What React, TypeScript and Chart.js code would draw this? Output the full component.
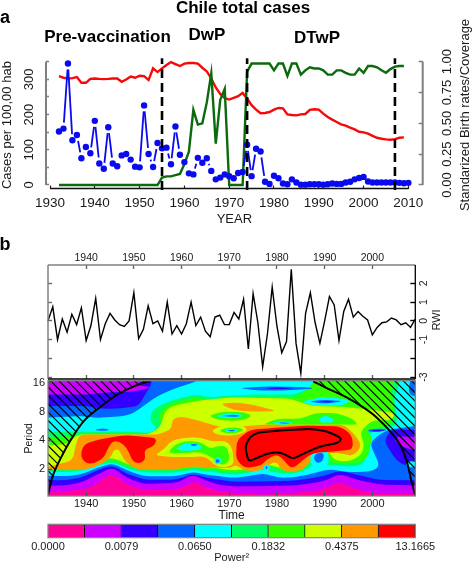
import React, { useEffect, useRef } from "react";
import { Chart, registerables } from "chart.js";

Chart.register(...registerables);

const FONT = "'Liberation Sans', Arial, sans-serif";
const INK = "#1a1a1a";

// ---------- panel a ----------
const CASE_YEARS = [1932,1933,1934,1935,1936,1937,1938,1939,1940,1941,1942,1943,1944,1945,1946,1947,1948,1949,1950,1951,1952,1953,1954,1955,1956,1957,1958,1959,1960,1961,1962,1963,1964,1965,1966,1967,1968,1969,1970,1971,1972,1973,1974,1975,1976,1977,1978,1979,1980,1981,1982,1983,1984,1985,1986,1987,1988,1989,1990,1991,1992,1993,1994,1995,1996,1997,1998,1999,2000,2001,2002,2003,2004,2005,2006,2007,2008,2009,2010];
const CASES = [152,160,345,127,142,76,108,90,182,61,46,164,61,53,84,88,72,52,50,226,88,51,119,104,106,59,166,86,65,33,30,77,63,76,40,16,21,30,25,19,34,37,114,25,103,95,9,3,26,19,4,2,16,7,1,1,2,2,2,1,2,4,3,3,7,9,16,20,23,10,7,7,7,7,7,7,6,5,6];
const BIRTH_RATE = [.883,.870,.864,.867,.875,.829,.829,.861,.864,.861,.859,.861,.864,.864,.837,.856,.880,.870,.886,.883,.851,.946,.916,.946,.973,.997,.981,.965,.984,.989,.989,.984,.951,.921,.864,.791,.739,.704,.693,.707,.720,.747,.701,.647,.611,.582,.584,.592,.611,.625,.622,.573,.568,.565,.573,.576,.609,.614,.611,.579,.552,.530,.511,.492,.481,.465,.451,.432,.427,.416,.399,.383,.375,.370,.367,.372,.383,.386];
const COVERAGE = [0,0,0,0,0,0,0,0,0,0,0,0,0,0,0,0,0,0,0,0,0,0,0,.06,.07,.07,.08,.09,.17,.27,.61,.49,.50,.67,.905,.335,.69,.78,0,0,0,0,.92,.985,.985,.985,.985,.985,.93,.985,.985,.885,.985,.985,.895,.93,.955,.945,.945,.93,.895,.895,.93,.93,.91,.895,.895,.945,.91,.965,.965,.955,.93,.91,.94,.96,.965,.965];
const PERIOD_BREAKS = [1955, 1974, 2007];
const BREAK_SPAN = [-14, 360];
const DECADES_A = [1930,1940,1950,1960,1970,1980,1990,2000,2010];
const CASE_TICKS = [0,50,100,150,200,250,300,350];
const CASE_LABELS = [0,100,200,300];
const SHARE_TICKS = [0,.25,.5,.75,1];

// ---------- panel b, series ----------
const RWI_YEARS = CASE_YEARS.slice(0, 78);
const RWI = [0,.75,-1,.1,-.6,.35,-.2,.7,-1.05,-.25,1.2,-1,-.15,.4,.05,-.2,-.3,0,1.5,-.95,-.45,.8,-.15,0,-.55,1,-.7,-.25,-.7,-.15,1,-.25,.2,-.55,-.85,.2,.3,-.2,-.2,.45,.1,1.15,-1.5,1.45,-.1,-2.45,-.7,1.8,-.3,-1.7,-1.1,2.75,-1.2,-2.8,.4,1.5,-.1,-1.2,0,1.3,.85,-1.05,.5,1.15,.2,.5,.25,.05,-.75,-.35,-.1,-.05,.15,.05,-.2,-.1,-.35,.1];
const DECADES_B = [1940,1950,1960,1970,1980,1990,2000];
const RWI_TICKS = [-3,-2,-1,0,1,2];
const RWI_LABELS = [-3,-1,0,1,2];

// ---------- panel b, wavelet power: outlines in [year, log2(period)] ----------
const PERIOD_TICKS = [1,2,3,4];
const LEVEL_COLORS = ["#ff0099","#cc00ff","#3300ff","#0066ff","#00ffff","#00ff66","#33ff00","#ccff00","#ff9900","#ff0000"];
const POWER_LABELS = ["0.0000","0.0079","0.0650","0.1832","0.4375","13.1665"];

const L1 = [[1929,.15],[1935.4,.22],[1938.8,.28],[1941.6,.4],[1943.7,.68],[1945.5,.83],[1947,.63],[1949.3,.4],[1952.1,.28],[1959.1,.28],[1961.2,.43],[1962.6,.57],[1964,.46],[1966,.28],[1971,.17],[1977,.11],[1984,.17],[1989.7,.28],[1993,.57],[1996,.34],[1999.5,.17],[2012,.13],[2012,4.8],[1929,4.8]];
const L2 = [[1929,.4],[1935.4,.43],[1938.8,.52],[1942.3,.81],[1945.5,1.06],[1948.6,.69],[1952.1,.48],[1959.1,.52],[1962.3,.81],[1964.7,.63],[1967.5,.46],[1971,.4],[1977.1,.4],[1984.1,.43],[1989.7,.57],[1993.2,.83],[1996.7,.63],[2001.6,.46],[2012,.43],[2012,4.8],[1952.2,4.8],[1952.2,4.08],[1950,3.94],[1954,3.85],[1950,3.7],[1945,3.68],[1940,3.6],[1929,3.6]];
const L3 = [[1929,.63],[1935.4,.6],[1938.8,.69],[1942.3,.95],[1945.5,1.13],[1948.6,.83],[1952.1,.63],[1959.1,.63],[1962.3,.83],[1965.4,.69],[1971,.55],[1977.1,.57],[1984.1,.6],[1989.7,.75],[1993.2,.95],[1996.7,.8],[2001.6,.62],[2012,.6],[2012,4.8],[1954,4.8],[1953.8,3.98],[1952.2,3.55],[1951,3.2],[1946.5,3.1],[1943,3.1],[1940.2,3.2],[1929,3.2]];
const L4 = [[1929,.78],[1935.4,.75],[1938.8,.8],[1942.3,1.04],[1945.5,1.2],[1948.6,.95],[1952.1,.75],[1959.1,.75],[1962.3,.9],[1965.4,.8],[1971,.69],[1973.7,.75],[1977.1,.85],[1980.6,.69],[1984.1,.72],[1987.6,.85],[1991,1],[1994.6,.9],[1998.1,.9],[2000.5,.95],[2001.5,1.15],[2000.5,1.5],[1999.5,1.9],[2001,2.15],[2003,2.35],[2005,2.42],[2012,2.55],[2012,3.4],[2007.5,3.6],[2008.5,4.8],[1963.6,4.8],[1963.6,4.08],[1958.5,3.8],[1955,3.55],[1952,3.2],[1950,2.95],[1948,2.85],[1942,2.78],[1939.5,2.85],[1929,2.78]];
const L5 = [[1929,.9],[1935.4,.9],[1938.8,.92],[1942.3,1.13],[1945.5,1.25],[1948.6,1.02],[1952.1,.88],[1959.1,.88],[1962.3,.98],[1965.4,.92],[1971,.8],[1973.7,.85],[1977,1],[1980.6,.85],[1984.1,.85],[1986.5,1],[1987,1.12],[1991,1.15],[1994.6,1.1],[1997,1.1],[1998.5,1.25],[1998.3,1.45],[1996.8,1.75],[1997.5,1.95],[1998.5,2.1],[2000,2.3],[2004,2.45],[2005.2,2.6],[2005,3],[2004.5,3.5],[2005.5,3.8],[2006,4.8],[1988,4.8],[1987.8,4.08],[1987,3.85],[1984,3.6],[1977,3.6],[1971,3.58],[1966,3.5],[1963,3.6],[1958,3.4],[1955,3.2],[1953.5,2.95],[1953.5,2.62],[1955,2.4],[1953,2.25],[1950,2.3],[1929,2.3]];
const L6 = [[1929,.95],[1935.4,.98],[1938.8,1],[1942.3,1.22],[1945.5,1.35],[1948.6,1.1],[1952.1,.96],[1959.1,.96],[1962.3,1.05],[1965.4,1],[1971,.88],[1973.7,.95],[1975.5,1.1],[1977.1,1.15],[1979,1.1],[1980.6,.95],[1984.1,.95],[1986.5,1.1],[1987,1.6],[1989,1.7],[1990.8,1.55],[1991.2,1.2],[1994.6,1.2],[1998,1.25],[1999.3,1.5],[1999.5,1.85],[2000.2,2.1],[1998.5,2.3],[2001,2.45],[2003.5,2.5],[2004.5,2.75],[2004.5,3.2],[2004,3.6],[2005,4.8],[1988.6,4.8],[1988,4.08],[1986,3.7],[1984,3.5],[1977,3.5],[1971,3.45],[1966,3.38],[1963,3.5],[1958,3.3],[1956,3.1],[1955,2.75],[1957,2.4],[1953.5,2.15],[1950,2.2],[1929,2.1]];
const L7 = [[1929,.95],[1934,1.05],[1938.8,1.08],[1942.3,1.3],[1945.5,1.4],[1948.6,1.18],[1952.1,1.02],[1959,1.02],[1962.3,1.1],[1965.4,1.08],[1971,.95],[1973.5,1],[1975.5,1.15],[1977,1.2],[1980.6,1.05],[1984.1,1],[1986,1.15],[1987,1.55],[1990.5,1.7],[1992,1.3],[1995,1.25],[1997.8,1.5],[1998.3,1.9],[1997.5,2.2],[1998,2.4],[2000,2.7],[2004,2.7],[2004.8,2.95],[2003,3],[1998,3.1],[1993,3.18],[1987,3.2],[1983,3.45],[1971,3.5],[1964,3.4],[1958,3.2],[1956.5,3],[1955.5,2.45],[1953,2.2],[1938,2.2],[1936.5,1.9],[1929,1.75]];
const L8 = [[1929,.92],[1933,.98],[1940,.98],[1943,1.15],[1945.2,1.4],[1945.8,1.68],[1947,1.68],[1948,1.27],[1950.7,.98],[1959,1],[1962.6,1.1],[1966,1.05],[1970.5,1.04],[1971.2,1.15],[1973.7,.92],[1976.8,.95],[1978.2,1.15],[1980,1.27],[1980.7,.98],[1983.4,.87],[1986,1.04],[1987,1.3],[1988.7,1.56],[1993,1.56],[1996,1.45],[1997.8,1.8],[1996.4,2.2],[1994,2.55],[1977,2.55],[1973.7,2.5],[1970.2,2.43],[1967.5,2.5],[1962.6,2.73],[1959.8,2.84],[1958,2.73],[1958,2.4],[1955,2.2],[1938.5,2.2],[1937.6,1.7],[1937.2,1.3],[1934.7,1.2]];
const TOP_ORANGE = [[1968,3.28],[1972,3.32],[1976,3.2],[1980,3.02],[1975,3],[1971,3.05]];
const ISLAND_YELLOW = [[1954.2,1.48],[1956.3,1.68],[1957.7,1.97],[1960.5,2.1],[1964,2.1],[1966.5,1.95],[1969,2],[1970.5,1.8],[1971,1.3],[1970.5,1.1],[1968,1.05],[1966.5,1.2],[1965,1.45],[1962,1.42],[1958,1.42]];
const ISLAND_GREEN = [[1957,1.55],[1958.5,1.85],[1961,1.98],[1964,1.95],[1966,1.7],[1967.5,1.8],[1969.5,1.8],[1970.2,1.3],[1968.5,1.1],[1966.5,1.4],[1964,1.6],[1960,1.55]];
const ISLAND_CYAN = [[1958.5,1.68],[1960.5,1.9],[1963.5,1.9],[1964.5,1.7],[1962,1.62]];
const ISLAND_BLUE = [[1961.7,1.84],[1962.5,1.88],[1963.6,1.84],[1962.5,1.8]];
const ISLAND2_CYAN = [[1966.7,1.25],[1967.5,1.45],[1968.7,1.3],[1967.5,1.12]];
const ISLAND2_BLUE = [[1967,1.28],[1967.5,1.36],[1968.2,1.28],[1967.5,1.2]];
const LENS_A = [[[1965.5,2.85],[1968.5,3],[1973,2.98],[1975,2.85],[1972.5,2.68],[1968,2.7]],[[1967,2.85],[1970,2.95],[1973,2.9],[1972,2.78],[1969,2.78]],[[1968,2.85],[1971,2.9],[1972.5,2.85],[1971,2.82]]];
const LENS_B = [[[1966,2.33],[1969,2.55],[1973,2.52],[1974,2.33],[1971.5,2.17],[1968,2.17]],[[1967.5,2.33],[1970,2.47],[1972.5,2.42],[1973,2.33],[1970.5,2.22]],[[1968.5,2.33],[1970.5,2.42],[1972.3,2.35],[1970.5,2.27]],[[1969.5,2.34],[1970.5,2.37],[1971.5,2.34],[1970.5,2.31]]];
const MID_GREEN = [[1977,2.55],[1997,2.55],[1996,2.75],[1992.5,2.95],[1988,2.95],[1985,2.75],[1980,2.75]];
const LENS_C = [[[1978.5,2.6],[1981,2.68],[1984,2.6],[1981,2.54]],[[1980,2.61],[1981.5,2.63],[1983,2.6],[1981.5,2.58]]];
const PATCH_D = [[1988.7,2.62],[1992,2.62],[1991.5,2.84],[1989,2.84]];
const LENS_E = [[[1972,3.82],[1978,3.88],[1986,3.86],[1988,3.8],[1982,3.74],[1976,3.74]],[[1977,3.82],[1981,3.85],[1984,3.82],[1980,3.78]]];
const LENS_F = [[[1984.8,3.35],[1990,3.53],[1995.5,3.4],[1994,3.22],[1988,3.2]],[[1986.5,3.35],[1990,3.42],[1994,3.36],[1990,3.28]],[[1988.5,3.35],[1990.5,3.38],[1992.5,3.35],[1990.5,3.32]]];
const LENS_G = [[[1998.5,2.33],[2001,2.42],[2003.5,2.38],[2001,2.27]],[[1999.5,2.34],[2001,2.37],[2003,2.34],[2001,2.31]]];
const RIGHT_VIOLET = [[2002.5,2],[2004,2.38],[2012,2.35],[2012,1.1],[2007,1.1],[2005,1.3],[2003.5,1.7]];
const RIGHT_PURPLE = [[2004.3,2.05],[2005.5,2.14],[2012,2.1],[2012,1.68],[2007,1.7]];
const RIGHT_CYAN = [[2006.8,1.17],[2008,1.3],[2010,1.17],[2008,1.02]];
const LEFT_BLUE = [[1941.5,2.37],[1943.4,2.43],[1945.2,2.37],[1943.4,2.32]];
const HALO_CYAN = [[1986.8,1.35],[1987.6,1.7],[1990.8,1.65],[1990.8,1.1],[1987.5,1.05]];
const HALO_BLUE = [[1987.6,1.4],[1988.3,1.56],[1990,1.55],[1989.5,1.25],[1988.3,1.2]];
const DOT_CYAN = [[1977,1.05],[1977.8,1.2],[1978.7,1.05],[1977.8,.9]];
const DOT_BLUE = [[1977.5,1.05],[1977.8,1.12],[1978.1,1.05],[1977.8,.97]];
const RED_LEFT = [[1938.8,1.44],[1939.4,1.85],[1941.6,1.99],[1945.1,2.11],[1948.3,2.18],[1954.9,2.08],[1954.2,1.79],[1952.1,1.68],[1952.5,1.33],[1951.1,1.18],[1949.7,1.27],[1948.6,1.74],[1946.9,1.97],[1945.5,1.97],[1944.4,1.68],[1943.7,1.39],[1941.6,1.18],[1939.9,1.2]];
const RED_RIGHT = [[1971.6,2.02],[1974.4,2.37],[1979.2,2.43],[1985.5,2.51],[1993.2,2.49],[1995.7,2.2],[1996,1.68],[1991.1,1.6],[1987.6,1.56],[1985.9,1.39],[1984.1,1.1],[1982.7,1.04],[1981.7,1.27],[1980,1.53],[1977.8,1.33],[1976.8,1.13],[1973.3,1.02],[1971.4,1.33]];
const SIGNIFICANCE = [[1974,1.27],[1973.3,1.79],[1974.4,2.14],[1976.1,2.28],[1980.6,2.34],[1986.9,2.4],[1990.4,2.32],[1993.6,2.08],[1992.9,1.91],[1989,1.79],[1985.9,1.56],[1983.4,1.36],[1982.4,1.44],[1980.6,1.6],[1977.8,1.53],[1975,1.33]];
const COI_LEFT = [[1932,.11],[1933.1,.805],[1934.7,1.39],[1936.8,2.02],[1939.5,2.67],[1942.7,3.13],[1946.5,3.59],[1950,3.88],[1953.5,4.08]];
const COI_RIGHT = [[1987.6,4.06],[1991.1,3.77],[1994.6,3.5],[1998.1,3.15],[2000.9,2.8],[2003.7,2.32],[2005.8,1.85],[2007.2,1.27],[2008.2,.57],[2009,.09]];
const HATCH_LEFT_CORNER = [[1931,4.3],[1931,.11]];
const HATCH_RIGHT_CORNER = [[2010,.09],[2010,4.3]];

type Pt = number[];
const c = LEVEL_COLORS;
const POWER_LAYERS: [string, Pt[]][] = [
  [c[1], L1],[c[2], L2],[c[3], L3],[c[4], L4],[c[5], L5],[c[6], L6],[c[7], L7],
  [c[8], TOP_ORANGE],[c[8], L8],
  [c[6], MID_GREEN],[c[4], LENS_C[0]],[c[3], LENS_C[1]],[c[4], PATCH_D],
  [c[7], ISLAND_YELLOW],[c[6], ISLAND_GREEN],[c[4], ISLAND_CYAN],[c[3], ISLAND_BLUE],[c[4], ISLAND2_CYAN],[c[3], ISLAND2_BLUE],
  [c[6], LENS_A[0]],[c[4], LENS_A[1]],[c[3], LENS_A[2]],
  [c[7], LENS_B[0]],[c[6], LENS_B[1]],[c[4], LENS_B[2]],[c[3], LENS_B[3]],
  [c[3], LENS_E[0]],[c[2], LENS_E[1]],
  [c[4], LENS_F[0]],[c[3], LENS_F[1]],[c[2], LENS_F[2]],
  [c[3], LENS_G[0]],[c[2], LENS_G[1]],
  [c[2], RIGHT_VIOLET],[c[1], RIGHT_PURPLE],[c[4], RIGHT_CYAN],
  [c[3], LEFT_BLUE],[c[4], HALO_CYAN],[c[3], HALO_BLUE],[c[4], DOT_CYAN],[c[3], DOT_BLUE],
  [c[9], RED_LEFT],[c[9], RED_RIGHT],
];

const pts = (a: Pt[]) => a.map(([x, y]) => ({ x, y }));
const fixed = (n: number) => (s: any) => { if (s.isHorizontal()) s.height = n; else s.width = n; };
const setTicks = (vals: number[]) => (s: any) => { s.ticks = vals.map((value) => ({ value })); };
const font = (size: number, weight = "normal") => ({ family: FONT, size, weight });

function roundedPath(ctx: CanvasRenderingContext2D, p: { x: number; y: number }[], r = 7) {
  ctx.beginPath();
  const n = p.length;
  for (let i = 0; i < n; i++) {
    const cur = p[i], prev = p[(i + n - 1) % n], next = p[(i + 1) % n];
    const dp = Math.hypot(prev.x - cur.x, prev.y - cur.y) || 1;
    const dn = Math.hypot(next.x - cur.x, next.y - cur.y) || 1;
    const tp = Math.min(r / dp, 0.5), tn = Math.min(r / dn, 0.5);
    const ax = cur.x + (prev.x - cur.x) * tp, ay = cur.y + (prev.y - cur.y) * tp;
    const bx = cur.x + (next.x - cur.x) * tn, by = cur.y + (next.y - cur.y) * tn;
    if (i === 0) ctx.moveTo(ax, ay); else ctx.lineTo(ax, ay);
    ctx.quadraticCurveTo(cur.x, cur.y, bx, by);
  }
  ctx.closePath();
}

const stroke = (ctx: any, color: string, w: number, x1: number, y1: number, x2: number, y2: number) => {
  ctx.save(); ctx.strokeStyle = color; ctx.lineWidth = w; ctx.beginPath(); ctx.moveTo(x1, y1); ctx.lineTo(x2, y2); ctx.stroke(); ctx.restore();
};

const gappedLine = {
  id: "gappedLine",
  beforeDatasetDraw(chart: any, args: any) {
    const ds = chart.data.datasets[args.index];
    if (!ds.gapRadius) return;
    const ctx = chart.ctx, el = args.meta.data;
    ctx.save();
    ctx.strokeStyle = ds.backgroundColor; ctx.lineWidth = ds.gapLineWidth;
    for (let i = 0; i + 1 < el.length; i++) {
      const dx = el[i + 1].x - el[i].x, dy = el[i + 1].y - el[i].y, d = Math.hypot(dx, dy);
      if (d <= 2 * ds.gapRadius) continue;
      const t = ds.gapRadius / d;
      ctx.beginPath();
      ctx.moveTo(el[i].x + dx * t, el[i].y + dy * t);
      ctx.lineTo(el[i + 1].x - dx * t, el[i + 1].y - dy * t);
      ctx.stroke();
    }
    ctx.restore();
  },
};

const axesA = {
  id: "axesA",
  afterDatasetsDraw(chart: any) {
    const { x, y, y1 } = chart.scales, a = chart.chartArea, ctx = chart.ctx;
    stroke(ctx, "#7f7f7f", 2, a.left, y.getPixelForValue(0), a.left, y.getPixelForValue(350));
    stroke(ctx, "#7f7f7f", 2, a.right, y1.getPixelForValue(0), a.right, y1.getPixelForValue(1));
    stroke(ctx, "#111", 1.3, x.getPixelForValue(1930), a.bottom, x.getPixelForValue(2010), a.bottom);
  },
};

const frameRwi = {
  id: "frameRwi",
  afterDatasetsDraw(chart: any) {
    const a = chart.chartArea, ctx = chart.ctx;
    stroke(ctx, "#808080", 1.5, a.left, a.top, a.right, a.top);
    stroke(ctx, "#808080", 1.5, a.left, a.top, a.left, a.bottom);
    stroke(ctx, "#000", 1.3, a.right, a.top, a.right, a.bottom);
    stroke(ctx, "#000", 1.3, a.left, a.bottom, a.right, a.bottom);
  },
};

const powerLayers = {
  id: "powerLayers",
  beforeDatasetsDraw(chart: any) {
    const a = chart.chartArea, ctx = chart.ctx;
    ctx.save();
    ctx.beginPath(); ctx.rect(a.left, a.top, a.width, a.height); ctx.clip();
    ctx.fillStyle = LEVEL_COLORS[0];
    ctx.fillRect(a.left, a.top, a.width, a.height);
    chart.data.datasets.forEach((ds: any, i: number) => {
      if (!ds.fillColor) return;
      const el = chart.getDatasetMeta(i).data;
      roundedPath(ctx, el, 6);
      ctx.fillStyle = ds.fillColor; ctx.fill();
    });
    chart.data.datasets.forEach((ds: any, i: number) => {
      if (!ds.hatched) return;
      const el = chart.getDatasetMeta(i).data;
      ctx.save();
      ctx.beginPath();
      el.forEach((e: any, k: number) => (k ? ctx.lineTo(e.x, e.y) : ctx.moveTo(e.x, e.y)));
      ctx.closePath(); ctx.clip();
      ctx.strokeStyle = "#000"; ctx.lineWidth = 1.2;
      for (let off = -a.height; off < a.width; off += 8.4) {
        ctx.beginPath(); ctx.moveTo(a.left + off, a.top); ctx.lineTo(a.left + off + a.height, a.bottom); ctx.stroke();
      }
      ctx.restore();
    });
    chart.data.datasets.forEach((ds: any, i: number) => {
      if (!ds.contourColor) return;
      roundedPath(ctx, chart.getDatasetMeta(i).data, 5);
      ctx.strokeStyle = ds.contourColor; ctx.lineWidth = 2; ctx.stroke();
    });
    ctx.restore();
  },
  afterDatasetsDraw(chart: any) {
    const a = chart.chartArea, ctx = chart.ctx;
    ctx.save(); ctx.strokeStyle = "#808080"; ctx.lineWidth = 1.3; ctx.strokeRect(a.left, a.top, a.width, a.height); ctx.restore();
  },
};

const barFrame = {
  id: "barFrame",
  afterDatasetsDraw(chart: any) {
    const a = chart.chartArea, ctx = chart.ctx;
    ctx.save(); ctx.strokeStyle = "#808080"; ctx.lineWidth = 1.2; ctx.strokeRect(a.left, a.top, a.width, a.height); ctx.restore();
  },
};

function configA(): any {
  return {
    type: "line",
    plugins: [gappedLine, axesA],
    data: {
      datasets: [
        ...PERIOD_BREAKS.map((yr) => ({
          data: BREAK_SPAN.map((v) => ({ x: yr, y: v })), borderColor: "#000", borderWidth: 2.6, borderDash: [9, 5], pointRadius: 0, clip: false, yAxisID: "y",
        })),
        { data: CASE_YEARS.map((x, i) => ({ x, y: CASES[i] })), showLine: false, backgroundColor: "#0a0af0", pointBackgroundColor: "#0a0af0", pointBorderWidth: 0, pointRadius: 3.2, clip: false, gapRadius: 6, gapLineWidth: 1.8, yAxisID: "y" },
        { data: RWI_YEARS.map((x, i) => ({ x, y: COVERAGE[i] })), borderColor: "#0b6a0b", borderWidth: 2.4, pointRadius: 0, tension: 0, clip: false, yAxisID: "y1" },
        { data: RWI_YEARS.map((x, i) => ({ x, y: BIRTH_RATE[i] })), borderColor: "#f80808", borderWidth: 2.4, pointRadius: 0, tension: 0, clip: false, yAxisID: "y1" },
      ],
    },
    options: {
      animation: false, responsive: false,
      layout: { padding: { top: 61.7, bottom: 0, left: 0, right: 0 } },
      plugins: { legend: { display: false }, title: { display: false }, tooltip: { enabled: false } },
      scales: {
        x: {
          type: "linear", min: 1929.1, max: 2013.2, afterBuildTicks: setTicks(DECADES_A), afterFit: fixed(43.5),
          border: { display: false },
          grid: { drawOnChartArea: false, tickLength: -3, tickColor: "#222", tickWidth: 1.2 },
          ticks: { autoSkip: false, maxRotation: 0, font: font(13.5), color: INK, padding: 10, callback: (v: number) => String(v) },
          title: { display: true, text: "YEAR", font: font(13), color: INK, padding: { top: 0, bottom: 5 } },
        },
        y: {
          position: "left", min: -10, max: 350, afterBuildTicks: setTicks(CASE_TICKS), afterFit: fixed(46),
          border: { display: false },
          grid: { drawOnChartArea: false, tickLength: -3, tickColor: "#7f7f7f", tickWidth: 1.5 },
          ticks: { autoSkip: false, minRotation: 90, maxRotation: 90, crossAlign: "center", font: font(13), color: INK, padding: 9, callback: (v: number) => (CASE_LABELS.includes(v) ? String(v) : "") },
          title: { display: true, text: "Cases per 100,00 hab", font: font(13), color: INK, padding: { top: 0, bottom: 0 } },
        },
        y1: {
          position: "right", min: -0.0284, max: 1, afterBuildTicks: setTicks(SHARE_TICKS), afterFit: fixed(49.3),
          border: { display: false },
          grid: { drawOnChartArea: false, tickLength: -4, tickColor: "#7f7f7f", tickWidth: 1.5 },
          ticks: { autoSkip: false, minRotation: 90, maxRotation: 90, crossAlign: "center", font: font(13), color: INK, padding: 16, callback: (v: number) => v.toFixed(2) },
        },
      },
    },
  };
}

function configB(): any {
  const bare = { drawOnChartArea: false, tickLength: -4, tickColor: "#666", tickWidth: 1.4 };
  return {
    type: "line",
    plugins: [frameRwi],
    data: { datasets: [{ data: RWI_YEARS.map((x, i) => ({ x, y: RWI[i] })), borderColor: "#000", borderWidth: 1.4, pointRadius: 0, tension: 0, clip: false, xAxisID: "x", yAxisID: "y" }] },
    options: {
      animation: false, responsive: false,
      layout: { padding: 0 },
      plugins: { legend: { display: false }, title: { display: false }, tooltip: { enabled: false } },
      scales: {
        x: {
          type: "linear", position: "top", min: 1932, max: 2009, afterBuildTicks: setTicks(DECADES_B), afterFit: fixed(20),
          border: { display: false }, grid: bare,
          ticks: { autoSkip: false, maxRotation: 0, font: font(10.5), color: INK, padding: 5, callback: (v: number) => String(v) },
        },
        x2: {
          type: "linear", axis: "x", position: "bottom", min: 1932, max: 2009, afterBuildTicks: setTicks(DECADES_B), afterFit: fixed(17),
          border: { display: false }, grid: bare, ticks: { display: false, autoSkip: false },
        },
        y: {
          position: "right", min: -3.1, max: 2.98, afterBuildTicks: setTicks(RWI_TICKS), afterFit: fixed(56.7),
          border: { display: false }, grid: { ...bare, tickColor: "#000", tickLength: -5 },
          ticks: { autoSkip: false, minRotation: 90, maxRotation: 90, crossAlign: "center", font: font(10.5), color: INK, padding: 9, callback: (v: number) => (RWI_LABELS.includes(v) ? String(v) : "") },
        },
        y2: {
          type: "linear", axis: "y", position: "left", min: -3.1, max: 2.98, afterBuildTicks: setTicks(RWI_TICKS), afterFit: fixed(48),
          border: { display: false }, grid: bare, ticks: { display: false, autoSkip: false },
        },
      },
    },
  };
}

function configC(): any {
  const overlayDs = POWER_LAYERS.map(([fillColor, a]) => ({ data: pts(a), fillColor, showLine: false, pointRadius: 0 }));
  return {
    type: "line",
    plugins: [powerLayers],
    data: {
      datasets: [
        { data: pts(COI_LEFT), borderColor: "#000", borderWidth: 2, pointRadius: 0, tension: 0.35, clip: true },
        { data: pts(COI_RIGHT), borderColor: "#000", borderWidth: 2, pointRadius: 0, tension: 0.35, clip: true },
        ...overlayDs,
        { data: pts([...COI_LEFT, ...HATCH_LEFT_CORNER]), hatched: true, showLine: false, pointRadius: 0 },
        { data: pts([...COI_RIGHT, ...HATCH_RIGHT_CORNER]), hatched: true, showLine: false, pointRadius: 0 },
        { data: pts(SIGNIFICANCE), contourColor: "#000", showLine: false, pointRadius: 0 },
      ],
    },
    options: {
      animation: false, responsive: false,
      layout: { padding: { top: 20.7, right: 56.7, left: 0, bottom: 0 } },
      plugins: { legend: { display: false }, title: { display: false }, tooltip: { enabled: false } },
      scales: {
        x: {
          type: "linear", min: 1932, max: 2009, afterBuildTicks: setTicks(DECADES_B), afterFit: fixed(27),
          border: { display: false }, grid: { drawOnChartArea: false, tickLength: -4, tickColor: "#555", tickWidth: 1.4, z: 1 },
          ticks: { autoSkip: false, maxRotation: 0, font: font(11), color: INK, padding: 5, callback: (v: number) => String(v) },
          title: { display: true, text: "Time", font: font(12), color: INK, padding: { top: 0, bottom: 0 } },
        },
        y: {
          min: 0.06, max: 4.08, afterBuildTicks: setTicks(PERIOD_TICKS), afterFit: fixed(48),
          border: { display: false }, grid: { drawOnChartArea: false, tickLength: -4, tickColor: "#555", tickWidth: 1.4, z: 1 },
          ticks: { autoSkip: false, font: font(11), color: INK, padding: 7, callback: (v: number) => String(Math.pow(2, v)) },
          title: { display: true, text: "Period", font: font(10.5), color: INK, padding: { top: 22.7, bottom: 0 } },
        },
      },
    },
  };
}

function configD(): any {
  return {
    type: "bar",
    plugins: [barFrame],
    data: {
      labels: ["Power"],
      datasets: LEVEL_COLORS.map((color) => ({ data: [1], backgroundColor: color, borderColor: "#000", borderWidth: { right: 1 }, barPercentage: 1, categoryPercentage: 1 })),
    },
    options: {
      indexAxis: "y", animation: false, responsive: false,
      layout: { padding: { top: 4.3, left: 48, right: 56.7, bottom: 0 } },
      plugins: { legend: { display: false }, title: { display: false }, tooltip: { enabled: false } },
      scales: {
        x: {
          type: "linear", stacked: true, min: 0, max: 10, afterBuildTicks: setTicks([0, 2, 4, 6, 8, 10]), afterFit: fixed(27.3),
          border: { display: false }, grid: { display: false, drawTicks: false },
          ticks: { autoSkip: false, maxRotation: 0, font: font(11), color: INK, padding: 2.5, callback: (v: number) => POWER_LABELS[v / 2] },
          title: { display: true, text: "Power\u00b2", font: font(11), color: INK, padding: { top: 0, bottom: 0 } },
        },
        y: { stacked: true, display: false },
      },
    },
  };
}

const Text = ({ x, y, size, bold, rotate, children }: any) => (
  <span style={{
    position: "absolute", left: x, top: y, whiteSpace: "nowrap", lineHeight: 1, color: bold ? "#000" : INK,
    fontFamily: FONT, fontSize: size, fontWeight: bold ? "bold" : "normal",
    transform: `translate(-50%,-50%)${rotate ? " rotate(-90deg)" : ""}`,
  }}>{children}</span>
);

function Panel({ top, height, make }: { top: number; height: number; make: () => any }) {
  const ref = useRef<HTMLCanvasElement>(null);
  useEffect(() => {
    const chart = new Chart(ref.current!, make());
    return () => chart.destroy();
  }, [make]);
  return <canvas ref={ref} width={472} height={height} style={{ position: "absolute", left: 0, top, width: 472, height, display: "block" }} />;
}

export default function App() {
  return (
    <div style={{ position: "absolute", left: 0, top: 0, width: 472, height: 562, overflow: "hidden", background: "#fff" }}>
      <Panel top={0} height={232} make={configA} />
      <Panel top={245} height={151} make={configB} />
      <Panel top={360} height={163} make={configC} />
      <Panel top={520} height={45} make={configD} />
      <Text x={243} y={7} size={17} bold>Chile total cases</Text>
      <Text x={5} y={17} size={18} bold>a</Text>
      <Text x={107.5} y={35.7} size={17} bold>Pre-vaccination</Text>
      <Text x={207} y={34.3} size={17} bold>DwP</Text>
      <Text x={317} y={36.7} size={17} bold>DTwP</Text>
      <Text x={5} y={244} size={18} bold>b</Text>
      <Text x={464} y={115} size={13} rotate>Standarized Birth rates/Coverage</Text>
      <Text x={436} y={320} size={11} rotate>RWI</Text>
    </div>
  );
}
